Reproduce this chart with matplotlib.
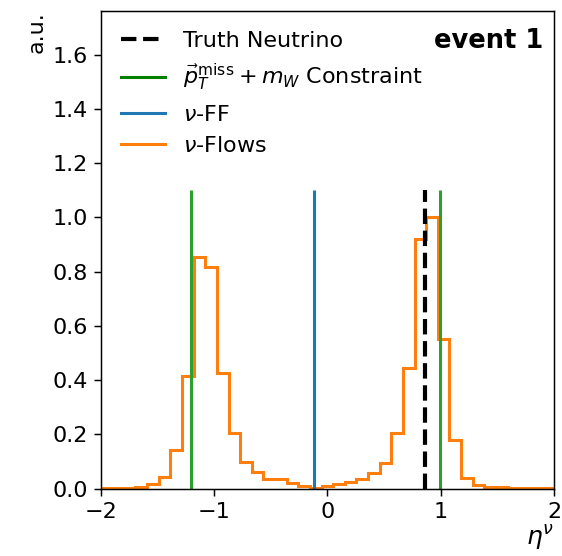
import numpy as np
import matplotlib.pyplot as plt
from matplotlib.lines import Line2D

# binning and normalised nu-Flows histogram
bin_edges = np.linspace(-2, 2, 40)
flow_counts = [0.001, 0.001, 0.001, 0.005, 0.017, 0.044, 0.142, 0.415, 0.854, 0.817,
               0.425, 0.204, 0.099, 0.060, 0.034, 0.034, 0.020, 0.010, 0.004, 0.010,
               0.017, 0.025, 0.036, 0.059, 0.096, 0.206, 0.445, 0.919, 1.000, 0.553,
               0.179, 0.038, 0.014, 0.005, 0.005, 0.002, 0.002, 0.001, 0.001]

truth_eta = 0.86
constraint_eta = [-1.2, 0.99]
ff_eta = -0.12
line_top = 1.1

plt.rcParams['axes.linewidth'] = 1.07

fig = plt.figure(figsize=(5.62, 5.56), dpi=100)
ax = fig.add_axes([0.179, 0.121, 0.807, 0.859])

ax.stairs(flow_counts, bin_edges, color='tab:orange', lw=2.2)
ax.vlines(constraint_eta, 0, line_top, color='tab:green', lw=2.2)
ax.vlines(ff_eta, 0, line_top, color='tab:blue', lw=2.2)
ax.vlines(truth_eta, 0, line_top, color='black', lw=3, linestyles='--')

ax.set_xlim(-2, 2)
ax.set_ylim(0, 1.76)
ax.set_yticks(np.arange(0, 1.61, 0.2))
ax.set_xticks([-2, -1, 0, 1, 2])
ax.tick_params(labelsize=16, length=4.7, width=1.07, pad=4.7)

ax.set_ylabel('a.u.', loc='top', fontsize=16)
ax.set_xlabel(r'$\eta^{\nu}$', loc='right', fontsize=18, labelpad=1)

handles = [
    Line2D([], [], color='black', lw=3, ls='--'),
    Line2D([], [], color='green', lw=2.2),
    Line2D([], [], color='tab:blue', lw=2.2),
    Line2D([], [], color='tab:orange', lw=2.2),
]
labels = ['Truth Neutrino',
          r'$\vec{p}_T^{\mathrm{miss}} + m_W$ Constraint',
          r'$\nu$-FF',
          r'$\nu$-Flows']
ax.legend(handles, labels, loc='upper left', frameon=False, fontsize=16)

ax.text(0.975, 0.965, 'event 1', transform=ax.transAxes, ha='right', va='top',
        fontsize=18.5, fontweight='bold')

plt.savefig('out.png', dpi=100)
